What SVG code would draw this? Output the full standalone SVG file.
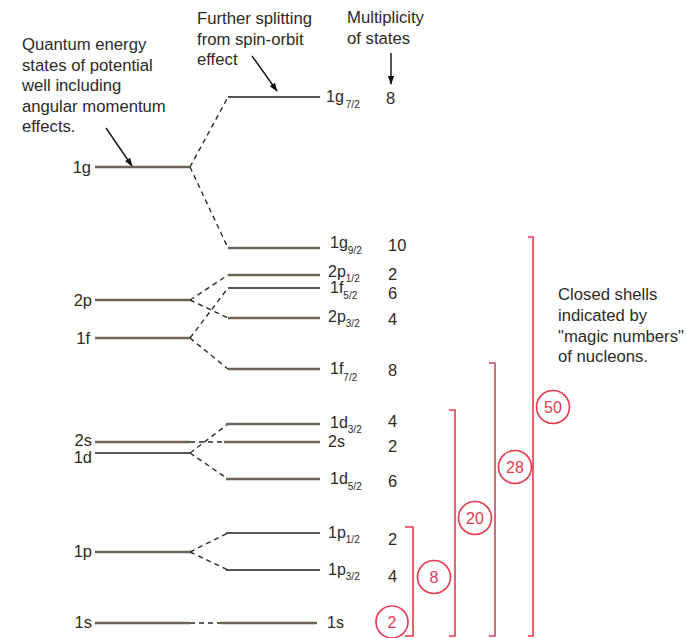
<svg xmlns="http://www.w3.org/2000/svg" width="687" height="638" viewBox="0 0 687 638">
<defs>
<style>
text{font-family:"Liberation Sans",Arial,Helvetica,sans-serif;fill:#2e2a25}
.t{font-size:16.7px}
.lab{font-size:16px}
.ll{font-size:16.5px;text-anchor:end}
.num{font-size:16.5px}
.sub{font-size:10px}
.thick{stroke:#6b6457;stroke-width:2.4;fill:none}
.thin{stroke:#1e1e1e;stroke-width:1.3;fill:none}
.dash{stroke:#2e2a25;stroke-width:1.4;stroke-dasharray:5 4;fill:none}
.arr{stroke:#111;stroke-width:1.4;fill:none}
.br{stroke:#e8394f;stroke-width:1.6;fill:none}
.br2{stroke:#c24a64;stroke-width:1.6;fill:none}
.circ{stroke:#e8394f;stroke-width:1.6;fill:#fff}
.ct{font-size:16px;fill:#e8394f;text-anchor:middle}
</style>
<marker id="ah" viewBox="0 0 10 10" refX="9" refY="5" markerWidth="9" markerHeight="9" markerUnits="userSpaceOnUse" orient="auto">
<path d="M0,1.5 L10,5 L0,8.5 Z" fill="#111"/>
</marker>
</defs>
<rect width="687" height="638" fill="#fff"/>

<g id="annotations">
<text class="t" x="22" y="50">Quantum energy</text>
<text class="t" x="22" y="70.5">states of potential</text>
<text class="t" x="22" y="91">well including</text>
<text class="t" x="22" y="111.5">angular momentum</text>
<text class="t" x="22" y="132">effects.</text>
<text class="t" x="197" y="24">Further splitting</text>
<text class="t" x="197" y="45">from spin-orbit</text>
<text class="t" x="197" y="65">effect</text>
<text class="t" x="347" y="23">Multiplicity</text>
<text class="t" x="347" y="44">of states</text>
<text class="t" x="558" y="300">Closed shells</text>
<text class="t" x="558" y="321">indicated by</text>
<text class="t" x="558" y="342">"magic numbers"</text>
<text class="t" x="558" y="362">of nucleons.</text>
</g>

<g id="connectors">
<line class="dash" x1="190" y1="167" x2="228" y2="97"/>
<line class="dash" x1="190" y1="167" x2="228" y2="248"/>
<line class="dash" x1="190" y1="300" x2="228" y2="275"/>
<line class="dash" x1="190" y1="300" x2="228" y2="318"/>
<line class="dash" x1="190" y1="338" x2="228" y2="288"/>
<line class="dash" x1="190" y1="338" x2="228" y2="369"/>
<line class="dash" x1="190" y1="442" x2="224" y2="442" stroke-dasharray="6 5"/>
<line class="dash" x1="190" y1="453" x2="228" y2="424"/>
<line class="dash" x1="190" y1="453" x2="228" y2="479"/>
<line class="dash" x1="190" y1="552" x2="228" y2="533"/>
<line class="dash" x1="190" y1="552" x2="228" y2="570"/>
<line class="dash" x1="190" y1="623" x2="220" y2="623" stroke-dasharray="5 4"/>
<line class="arr" x1="106" y1="128" x2="132" y2="166" marker-end="url(#ah)"/>
<line class="arr" x1="252" y1="56" x2="277" y2="91" marker-end="url(#ah)"/>
<line class="arr" x1="391" y1="53" x2="391" y2="84" marker-end="url(#ah)"/>
</g>

<g id="left-1g"><line class="thick" x1="95" y1="167" x2="190" y2="167"/><text class="ll" x="91" y="173">1g</text></g>
<g id="left-2p"><line class="thick" x1="95" y1="300" x2="190" y2="300"/><text class="ll" x="92" y="306">2p</text></g>
<g id="left-1f"><line class="thick" x1="95" y1="338" x2="190" y2="338"/><text class="ll" x="90" y="344">1f</text></g>
<g id="left-2s"><line class="thick" x1="95" y1="442" x2="190" y2="442"/><text class="ll" x="92" y="446">2s</text></g>
<g id="left-1d"><line class="thin" x1="95" y1="453" x2="190" y2="453"/><text class="ll" x="92" y="463">1d</text></g>
<g id="left-1p"><line class="thick" x1="95" y1="552" x2="190" y2="552"/><text class="ll" x="92" y="557">1p</text></g>
<g id="left-1s"><line class="thick" x1="95" y1="623" x2="190" y2="623"/><text class="ll" x="92" y="628">1s</text></g>

<g id="r-1g72"><line class="thin" x1="228" y1="97" x2="320" y2="97"/><text class="lab" x="326" y="102">1g<tspan class="sub" dx="2" dy="6">7/2</tspan></text><text class="num" x="386" y="104">8</text></g>
<g id="r-1g92"><line class="thick" x1="228" y1="248" x2="320" y2="248"/><text class="lab" x="330" y="248">1g<tspan class="sub" dx="0" dy="6">9/2</tspan></text><text class="num" x="388" y="251">10</text></g>
<g id="r-2p12"><line class="thick" x1="228" y1="275" x2="320" y2="275"/><text class="lab" x="328" y="277">2p<tspan class="sub" dx="0" dy="5">1/2</tspan></text><text class="num" x="388" y="280">2</text></g>
<g id="r-1f52"><line class="thin" x1="228" y1="288" x2="320" y2="288"/><text class="lab" x="330" y="293">1f<tspan class="sub" dx="0" dy="6">5/2</tspan></text><text class="num" x="388" y="299">6</text></g>
<g id="r-2p32"><line class="thick" x1="228" y1="318" x2="320" y2="318"/><text class="lab" x="328" y="322">2p<tspan class="sub" dx="0" dy="5">3/2</tspan></text><text class="num" x="388" y="325">4</text></g>
<g id="r-1f72"><line class="thick" x1="228" y1="369" x2="320" y2="369"/><text class="lab" x="330" y="374">1f<tspan class="sub" dx="0" dy="7">7/2</tspan></text><text class="num" x="388" y="376">8</text></g>
<g id="r-1d32"><line class="thick" x1="226" y1="424" x2="320" y2="424"/><text class="lab" x="330" y="428">1d<tspan class="sub" dx="0" dy="5">3/2</tspan></text><text class="num" x="388" y="427">4</text></g>
<g id="r-2s"><line class="thick" x1="224" y1="442" x2="320" y2="442"/><text class="lab" x="328" y="447">2s</text><text class="num" x="388" y="452">2</text></g>
<g id="r-1d52"><line class="thick" x1="226" y1="479" x2="320" y2="479"/><text class="lab" x="330" y="484">1d<tspan class="sub" dx="0" dy="6">5/2</tspan></text><text class="num" x="388" y="487">6</text></g>
<g id="r-1p12"><line class="thin" x1="226" y1="533" x2="320" y2="533"/><text class="lab" x="328" y="538">1p<tspan class="sub" dx="0" dy="5">1/2</tspan></text><text class="num" x="388" y="545">2</text></g>
<g id="r-1p32"><line class="thin" x1="226" y1="570" x2="320" y2="570"/><text class="lab" x="328" y="575">1p<tspan class="sub" dx="0" dy="5">3/2</tspan></text><text class="num" x="388" y="582">4</text></g>
<g id="r-1s"><line class="thick" x1="220" y1="623" x2="317" y2="623"/><text class="lab" x="327" y="628">1s</text></g>

<g id="shell-2"><circle class="circ" cx="392" cy="622" r="16"/><text class="ct" x="392" y="628">2</text></g>
<g id="shell-8"><polyline class="br" points="405,527 413,527 413,636 405,636"/><circle class="circ" cx="434" cy="577" r="16.5"/><text class="ct" x="434" y="583">8</text></g>
<g id="shell-20"><polyline class="br" points="449,410 455,410 455,636 449,636"/><circle class="circ" cx="475" cy="518" r="16.5"/><text class="ct" x="475" y="524">20</text></g>
<g id="shell-28"><polyline class="br2" points="489,363 495,363 495,636 489,636"/><circle class="circ" cx="515" cy="467" r="16.5"/><text class="ct" x="515" y="473">28</text></g>
<g id="shell-50"><polyline class="br" points="528,237 533,237 533,636 528,636"/><circle class="circ" cx="553" cy="407" r="16.5"/><text class="ct" x="553" y="413">50</text></g>
</svg>
